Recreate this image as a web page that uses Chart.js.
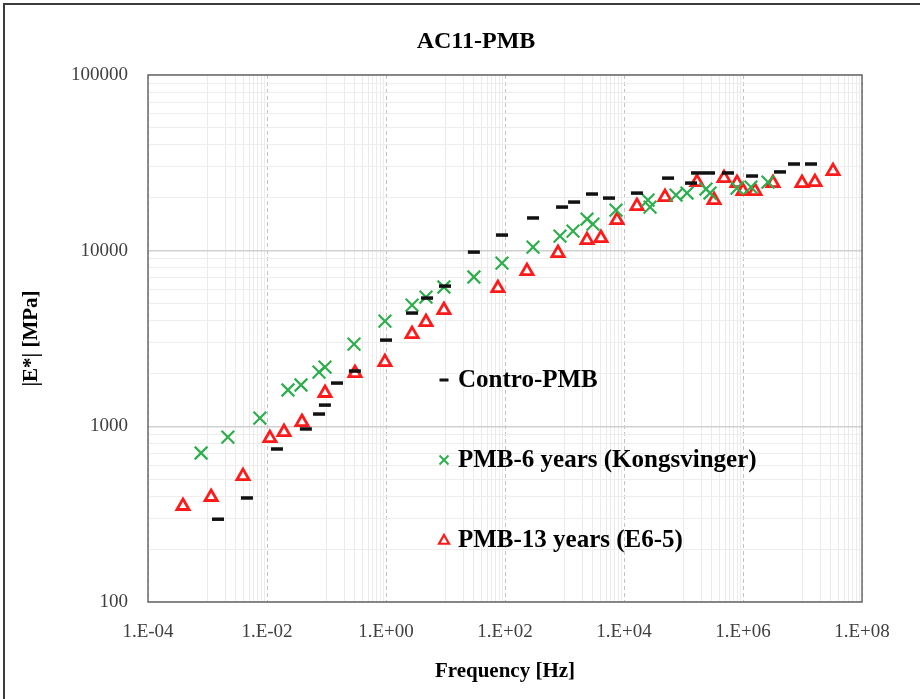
<!DOCTYPE html>
<html><head><meta charset="utf-8">
<script src="https://cdn.jsdelivr.net/npm/chart.js@4/dist/chart.umd.min.js"></script>
<style>html,body{margin:0;padding:0;background:#fff}#wrap{width:920px;height:699px;position:relative}</style>
</head><body><div id="wrap"><canvas id="c" width="920" height="699"></canvas></div>
<script>
const chartTitle = 'AC11-PMB';
const xAxisTitle = 'Frequency [Hz]';
const yAxisTitle = '|E*| [MPa]';
const seriesNames = ['Contro-PMB', 'PMB-6 years (Kongsvinger)', 'PMB-13 years (E6-5)'];
const xTickLabels = ['1.E-04', '1.E-02', '1.E+00', '1.E+02', '1.E+04', '1.E+06', '1.E+08'];
const yTickLabels = ['100', '1000', '10000', '100000'];

const controFreq = [0.0015, 0.0046, 0.0147, 0.045, 0.075, 0.094, 0.15, 0.30, 1.0, 2.74, 4.9, 9.8, 30, 89, 296, 910, 1450, 2900, 5600, 16500, 55000, 134000, 169000, 268000, 560000, 1420000, 4190000, 7200000, 13900000];
const controE    = [296, 391, 743, 966, 1175, 1321, 1763, 2064, 3097, 4414, 5373, 6286, 9815, 12270, 15350, 17710, 18910, 21010, 19920, 21270, 25880, 24250, 27690, 27690, 27690, 26600, 28070, 31140, 31140];

const pmb6Freq = [0.00078, 0.0022, 0.0076, 0.0225, 0.0373, 0.0748, 0.0944, 0.29, 0.96, 2.74, 4.7, 9.4, 30, 89, 296, 840, 1390, 2390, 3010, 7340, 25300, 27400, 74800, 114500, 239000, 279000, 792000, 1360000, 2630000];
const pmb6E    = [705, 869, 1114, 1610, 1719, 2037, 2174, 2937, 3972, 4900, 5440, 6210, 7080, 8500, 10480, 12100, 12930, 15140, 14160, 17010, 19410, 17710, 20730, 21290, 22430, 21290, 22700, 23000, 24550];

const pmb13Freq = [0.000387, 0.00115, 0.00395, 0.0112, 0.0193, 0.0387, 0.0944, 0.301, 0.96, 2.74, 4.7, 9.4, 76, 234, 778, 2390, 4100, 7620, 16500, 48800, 168600, 325800, 480000, 792000, 1000000, 1590000, 3190000, 9800000, 16200000, 32600000];
const pmb13E    = [352, 396, 521, 857, 928, 1058, 1548, 2011, 2321, 3350, 3923, 4593, 6120, 7650, 9690, 11480, 11800, 14940, 17950, 20200, 24550, 19410, 25870, 24260, 21840, 21840, 24260, 24260, 24550, 28360];

const SERIF = '"Liberation Serif", "Times New Roman", serif';
const COL_BLACK = '#111111', COL_GREEN = '#2fae4e', COL_RED = '#ff1a1a';

function pts(xs, ys) { return xs.map((x, i) => ({x: x, y: ys[i]})); }

function expOf(v) { return Math.log10(v); }
function isInt(e) { return Math.abs(e - Math.round(e)) < 1e-7; }
function isMajorX(v) { if (v === undefined) return false; const e = expOf(v); return isInt(e) && Math.round(e) % 2 === 0; }
function isMajorY(v) { if (v === undefined) return false; return isInt(expOf(v)); }

function buildXTicks() {
  const t = [];
  for (let e = -4; e <= 8; e++) {
    const p = Math.pow(10, e);
    if (e % 2 === 0) t.push({value: p});
    else for (let k = 1; k <= 9; k++) t.push({value: k * p});
  }
  return t;
}
function buildYTicks() {
  const t = [];
  for (let e = 2; e <= 5; e++) {
    const p = Math.pow(10, e);
    if (e === 5) { t.push({value: p}); break; }
    for (let k = 1; k <= 9; k++) t.push({value: k * p});
  }
  return t;
}

function drawMarker(c, kind, x, y, s) {
  c.save();
  if (kind === 'dash') {
    c.strokeStyle = COL_BLACK; c.lineWidth = 3;
    c.beginPath(); c.moveTo(x - s, y); c.lineTo(x + s, y); c.stroke();
  } else if (kind === 'x') {
    c.strokeStyle = COL_GREEN; c.lineWidth = 2;
    c.beginPath(); c.moveTo(x - s, y - s); c.lineTo(x + s, y + s); c.moveTo(x - s, y + s); c.lineTo(x + s, y - s); c.stroke();
  } else {
    c.strokeStyle = COL_RED; c.lineWidth = 2.2; c.fillStyle = '#fff';
    c.beginPath(); c.moveTo(x, y - s); c.lineTo(x + s, y + s * 0.75); c.lineTo(x - s, y + s * 0.75); c.closePath(); c.fill(); c.stroke();
  }
  c.restore();
}

const decor = {
  id: 'decor',
  beforeDraw(chart) {
    const c = chart.ctx; c.save(); c.fillStyle = '#fff'; c.fillRect(0, 0, chart.width, chart.height); c.restore();
  },
  afterDraw(chart) {
    const c = chart.ctx, a = chart.chartArea;
    c.save();
    c.strokeStyle = '#3c3c3c'; c.lineWidth = 2;
    c.beginPath(); c.moveTo(4, chart.height); c.lineTo(4, 4); c.lineTo(chart.width, 4); c.stroke();
    c.strokeStyle = '#6a6a6a'; c.lineWidth = 1.5;
    c.strokeRect(a.left, a.top, a.right - a.left, a.bottom - a.top);
    c.fillStyle = '#000'; c.font = 'bold 24px ' + SERIF; c.textAlign = 'center'; c.textBaseline = 'middle';
    c.fillText(chartTitle, 476, 42);
    const kinds = ['dash', 'x', 'tri'];
    const ly = [380, 460, 540];
    c.font = 'bold 25px ' + SERIF; c.textAlign = 'left';
    for (let i = 0; i < 3; i++) {
      drawMarker(c, kinds[i], 444, ly[i], kinds[i] === 'tri' ? 5 : 4.5);
      c.fillStyle = '#000';
      c.fillText(seriesNames[i], 458, ly[i] + 1);
    }
    c.restore();
  }
};

new Chart(document.getElementById('c'), {
  type: 'scatter',
  data: {
    datasets: [
      {label: seriesNames[0], data: pts(controFreq, controE), pointStyle: 'line', radius: 6, borderWidth: 3.5, borderColor: COL_BLACK, backgroundColor: COL_BLACK},
      {label: seriesNames[1], data: pts(pmb6Freq, pmb6E), pointStyle: 'crossRot', radius: 9, borderWidth: 2.2, borderColor: COL_GREEN, backgroundColor: COL_GREEN},
      {label: seriesNames[2], data: pts(pmb13Freq, pmb13E), pointStyle: 'triangle', radius: 7, borderWidth: 2.8, borderColor: COL_RED, backgroundColor: '#ffffff'}
    ]
  },
  options: {
    responsive: false,
    devicePixelRatio: 1,
    animation: false,
    layout: {padding: {top: 75, right: 58, left: 10, bottom: 0}},
    plugins: {legend: {display: false}, title: {display: false}, tooltip: {enabled: false}},
    scales: {
      x: {
        type: 'logarithmic', position: 'bottom', min: 1e-4, max: 1e8,
        afterFit(s) { s.height = 97; },
        afterBuildTicks(s) { s.ticks = buildXTicks(); },
        ticks: {
          autoSkip: false, maxRotation: 0, minRotation: 0, padding: 19, color: '#404040',
          font: {family: SERIF, size: 19},
          callback(v) { if (!isMajorX(v)) return ''; const idx = Math.round((expOf(v) + 4) / 2); return xTickLabels[idx]; }
        },
        grid: {drawTicks: false, color: ctx => isMajorX(ctx.tick && ctx.tick.value) ? '#c2c2c2' : '#ebebeb', lineWidth: 1},
        border: {display: false, dash: ctx => (ctx.tick && isMajorX(ctx.tick.value)) ? [4, 3] : []},
        title: {display: true, text: xAxisTitle, color: '#000', font: {family: SERIF, size: 21, weight: 'bold'}, padding: {top: 0, bottom: 15}}
      },
      y: {
        type: 'logarithmic', position: 'left', min: 100, max: 100000,
        afterFit(s) { s.width = 138; },
        afterBuildTicks(s) { s.ticks = buildYTicks(); },
        ticks: {
          autoSkip: false, padding: 20, color: '#404040',
          font: {family: SERIF, size: 19},
          callback(v) { if (!isMajorY(v)) return ''; return yTickLabels[Math.round(expOf(v)) - 2]; }
        },
        grid: {drawTicks: false, color: ctx => isMajorY(ctx.tick && ctx.tick.value) ? '#d0d0d0' : '#ededed', lineWidth: ctx => isMajorY(ctx.tick && ctx.tick.value) ? 1.5 : 1},
        border: {display: false},
        title: {display: true, text: yAxisTitle, color: '#000', font: {family: SERIF, size: 21, weight: 'bold'}, padding: {top: 9, bottom: 0}}
      }
    }
  },
  plugins: [decor]
});
</script>
</body></html>
